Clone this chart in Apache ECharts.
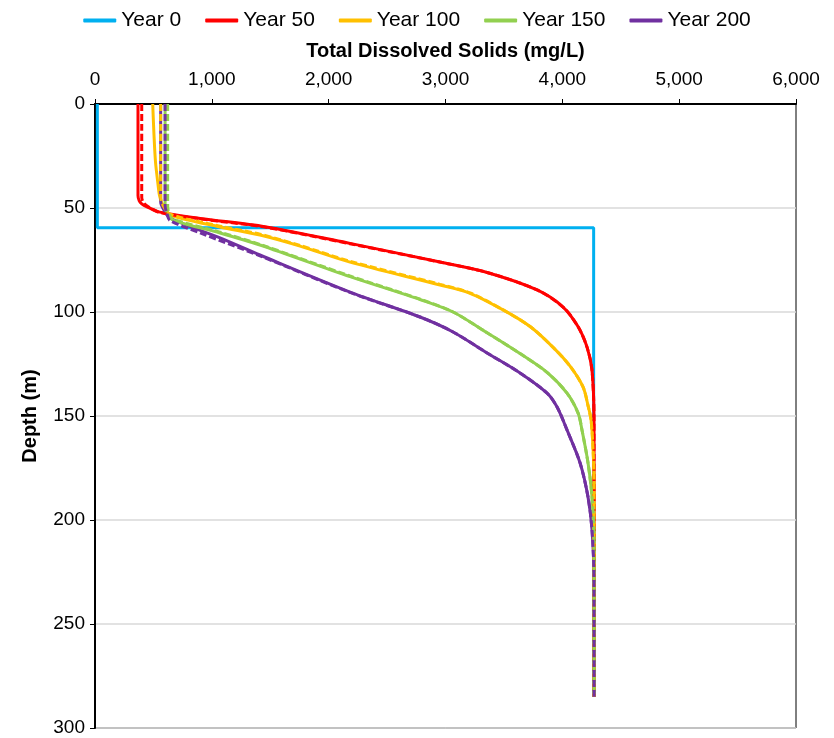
<!DOCTYPE html>
<html>
<head>
<meta charset="utf-8">
<script src="https://cdn.jsdelivr.net/npm/echarts@6/dist/echarts.min.js"></script>
<style>
  html, body { margin: 0; padding: 0; background: #fff; }
  #chart { width: 834px; height: 738px; }
</style>
</head>
<body>
<div id="chart"></div>
<script>
// TDS profiles: each point is [TDS (mg/L), depth (m)]
const year0 = [[20, 0], [20, 59.5], [4268, 59.5], [4268, 285]];

const year50 = [[368, 0], [368, 44], [378, 46.5], [400, 48], [440, 49.3], [556, 52], [900, 55],
  [1455, 59], [2183, 67], [2953, 76], [3356, 81], [3784, 89.4], [4006, 97.6], [4134, 107],
  [4212, 117], [4254, 128], [4271, 152], [4272, 285]];
const year100 = [[494, 0], [505, 15], [518, 28], [538, 38], [552, 44], [575, 48], [600, 49.8],
  [642, 53.4], [1070, 59.1], [1412, 63], [1755, 68.3], [2183, 76], [2953, 87], [3210, 91],
  [3493, 99], [3724, 107], [3921, 117], [4066, 126], [4177, 136], [4220, 145], [4246, 152],
  [4263, 166], [4271, 181], [4272, 285]];
const year150 = [[600, 0], [600, 49], [612, 52], [668, 55.8], [1070, 62], [1412, 67.8],
  [2183, 83], [2782, 94], [3065, 100], [3356, 110], [3638, 120], [3869, 129], [4040, 139],
  [4135, 148.6], [4169, 157], [4220, 172.6], [4254, 189], [4271, 209.6], [4272, 285]];
const year200 = [[562, 0], [562, 47], [585, 50.5], [642, 54.8], [1070, 64.4], [1412, 72.6],
  [2183, 90.4], [2782, 102.4], [3065, 109.6], [3356, 119.7], [3638, 129.3], [3869, 139],
  [3955, 145.7], [4040, 156.7], [4152, 172.6], [4220, 189], [4254, 204.8], [4271, 228.8], [4272, 285]];

// second set of profiles, drawn dashed
const year50b = [[400, 0], [400, 45], [420, 47.8], [460, 49.6], [556, 52.2], [900, 55.2],
  [1455, 59.2], [2183, 67.2], [2953, 76], [3356, 81], [3784, 89.4], [4006, 97.6], [4134, 107],
  [4212, 117], [4254, 128], [4271, 152], [4272, 285]];
const year100b = [[562, 0], [562, 45], [585, 49], [642, 53], [1070, 58.7], [1412, 62.6],
  [1755, 68], [2183, 75.6], [2953, 86.7], [3210, 90.8], [3493, 99], [3724, 107], [3921, 117],
  [4066, 126], [4177, 136], [4220, 145], [4246, 152], [4263, 166], [4271, 181], [4272, 285]];
const year150b = [[622, 0], [622, 49], [635, 53], [668, 55.4], [1070, 61.6], [1412, 67.5],
  [2183, 82.7], [2782, 93.8], [3065, 100], [3356, 110], [3638, 120], [3869, 129], [4040, 139],
  [4135, 148.6], [4169, 157], [4220, 172.6], [4254, 189], [4271, 209.6], [4272, 285]];
const year200b = [[600, 0], [600, 49], [615, 52.5], [642, 56], [900, 62], [1412, 73],
  [2183, 90.6], [2782, 102.4], [3065, 109.6], [3356, 119.7], [3638, 129.3], [3869, 139],
  [3955, 145.7], [4040, 156.7], [4152, 172.6], [4220, 189], [4254, 204.8], [4271, 228.8], [4272, 285]];

const legendNames = ['Year 0', 'Year 50', 'Year 100', 'Year 150', 'Year 200'];
const colors = { y0: '#00B0F0', y50: '#FF0000', y100: '#FFC000', y150: '#92D050', y200: '#7030A0' };

const FONT = "'Liberation Sans', Arial, sans-serif";

function solid(name, data, color, smooth) {
  return {
    name, type: 'line', data, smooth, showSymbol: false, symbol: 'none',
    lineStyle: { color, width: 3 }, itemStyle: { color }, silent: true
  };
}
function dashed(name, data, color) {
  return {
    name, type: 'line', data, smooth: 0.3, showSymbol: false, symbol: 'none',
    lineStyle: { color, width: 3, type: [7, 3] }, itemStyle: { color }, silent: true
  };
}

const chart = echarts.init(document.getElementById('chart'), null, { renderer: 'canvas' });
chart.setOption({
  animation: false,
  backgroundColor: '#fff',
  legend: {
    data: legendNames,
    top: 5,
    left: 'center',
    icon: 'roundRect',
    itemWidth: 33,
    itemHeight: 4,
    itemGap: 24,
    textStyle: { fontFamily: FONT, fontSize: 21, color: '#000' }
  },
  grid: {
    left: 95, right: 38, top: 104, bottom: 10,
    show: true, borderColor: '#000', borderWidth: 1
  },
  xAxis: {
    type: 'value', position: 'top', min: 0, max: 6000, interval: 1000,
    name: 'Total Dissolved Solids (mg/L)', nameLocation: 'middle', nameGap: 43,
    nameTextStyle: { fontFamily: FONT, fontSize: 20, fontWeight: 'bold', color: '#000' },
    axisLine: { show: true, lineStyle: { color: '#000', width: 2 } },
    axisTick: { show: true, inside: false, length: 5, lineStyle: { color: '#000' } },
    axisLabel: {
      fontFamily: FONT, fontSize: 19, color: '#000', margin: 15,
      formatter: v => v.toLocaleString('en-US')
    },
    splitLine: { show: false }
  },
  yAxis: {
    type: 'value', inverse: true, min: 0, max: 300, interval: 50,
    name: 'Depth (m)', nameLocation: 'middle', nameGap: 55, nameRotate: 90,
    nameTextStyle: { fontFamily: FONT, fontSize: 20, fontWeight: 'bold', color: '#000' },
    axisLine: { show: true, lineStyle: { color: '#000', width: 2 } },
    axisTick: { show: true, length: 5, lineStyle: { color: '#000' } },
    axisLabel: { fontFamily: FONT, fontSize: 19, color: '#000', margin: 10 },
    splitLine: { show: true, lineStyle: { color: '#D9D9D9', width: 1.5 } }
  },
  series: [
    solid('Year 0', year0, colors.y0, false),
    solid('Year 50', year50, colors.y50, 0.3),
    solid('Year 100', year100, colors.y100, 0.3),
    solid('Year 200', year200, colors.y200, 0.3),
    solid('Year 150', year150, colors.y150, 0.3),
    dashed('Year 50 (dashed)', year50b, colors.y50),
    dashed('Year 100 (dashed)', year100b, colors.y100),
    dashed('Year 150 (dashed)', year150b, colors.y150),
    dashed('Year 200 (dashed)', year200b, colors.y200)
  ]
});
</script>
</body>
</html>
